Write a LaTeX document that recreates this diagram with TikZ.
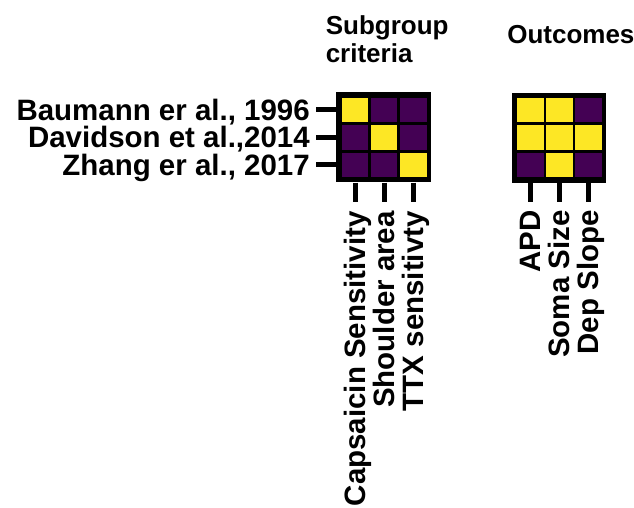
\documentclass[tikz,border=0pt]{standalone}
\usepackage{fontspec}
\setmainfont{Liberation Sans}
\usepackage{tikz}
\definecolor{hy}{HTML}{FDE725}
\definecolor{hp}{HTML}{440154}
\tikzset{
  hframe/.style={rectangle, fill=black, inner sep=0pt, minimum width=70.9pt, minimum height=67.5pt},
  hcell/.style={rectangle, inner sep=0pt, minimum width=19.9pt, minimum height=18.4pt},
  tick/.style={line width=3.75pt},
  lab/.style={font=\fontsize{22.1}{26}\selectfont\bfseries, inner sep=0pt, text height=15.8pt, text depth=0pt},
  ttl/.style={font=\fontsize{19.5}{21.3}\selectfont\bfseries, inner sep=0pt}
}
\begin{document}
\begin{tikzpicture}[x=0.75pt,y=0.75pt,yscale=-1,xscale=1]
\useasboundingbox (0,0) rectangle (634,507);
%Titles
\node[ttl, anchor=north west, align=left] (crit-title) at (325.5,15) {Subgroup\\criteria};
\node[ttl, anchor=base west] (outc-title) at (507,43.5) {Outcomes};
%Heat map: subgroup criteria
\node[hframe] (crit) at (383.4,137.4) {};
\foreach \row [count=\r] in {{hy,hp,hp},{hp,hy,hp},{hp,hp,hy}}
  \foreach \v [count=\c] in \row
    \node[hcell, fill=\v] (crit-\r-\c) at ({355+29.2*(\c-1)},{109.8+27.5*(\r-1)}) {};
%Heat map: outcomes
\node[hframe] (outc) at (559.2,137.9) {};
\foreach \row [count=\r] in {{hy,hy,hp},{hy,hy,hy},{hp,hy,hp}}
  \foreach \v [count=\c] in \row
    \node[hcell, fill=\v] (outc-\r-\c) at ({530.3+29*(\c-1)},{110.2+27.5*(\r-1)}) {};
%Row labels
\foreach \t [count=\r] in {{Baumann er al., 1996},{Davidson et al.,2014},{Zhang er al., 2017}}
  \node[lab, anchor=east] (study-\r) at (310,{109.8+27.5*(\r-1)}) {\t};
\foreach \r in {1,2,3}
  \draw[tick, shorten >=4.5pt] (crit.west |- crit-\r-1) -- (study-\r.east);
%Column labels
\foreach \t [count=\c] in {Capsaicin Sensitivity,Shoulder area,TTX sensitivty}
  \node[lab, rotate=90, anchor=east] (clab-\c) at ({355+29.2*(\c-1)},211) {\t};
\foreach \t [count=\c] in {APD,Soma Size,Dep Slope}
  \node[lab, rotate=90, anchor=east] (olab-\c) at ({530.3+29*(\c-1)},210) {\t};
\foreach \c in {1,2,3} {
  \draw[tick, shorten >=6.5pt] (crit-3-\c |- crit.south) -- (clab-\c.east);
  \draw[tick, shorten >=6pt] (outc-3-\c |- outc.south) -- (olab-\c.east);
}
\end{tikzpicture}
\end{document}
